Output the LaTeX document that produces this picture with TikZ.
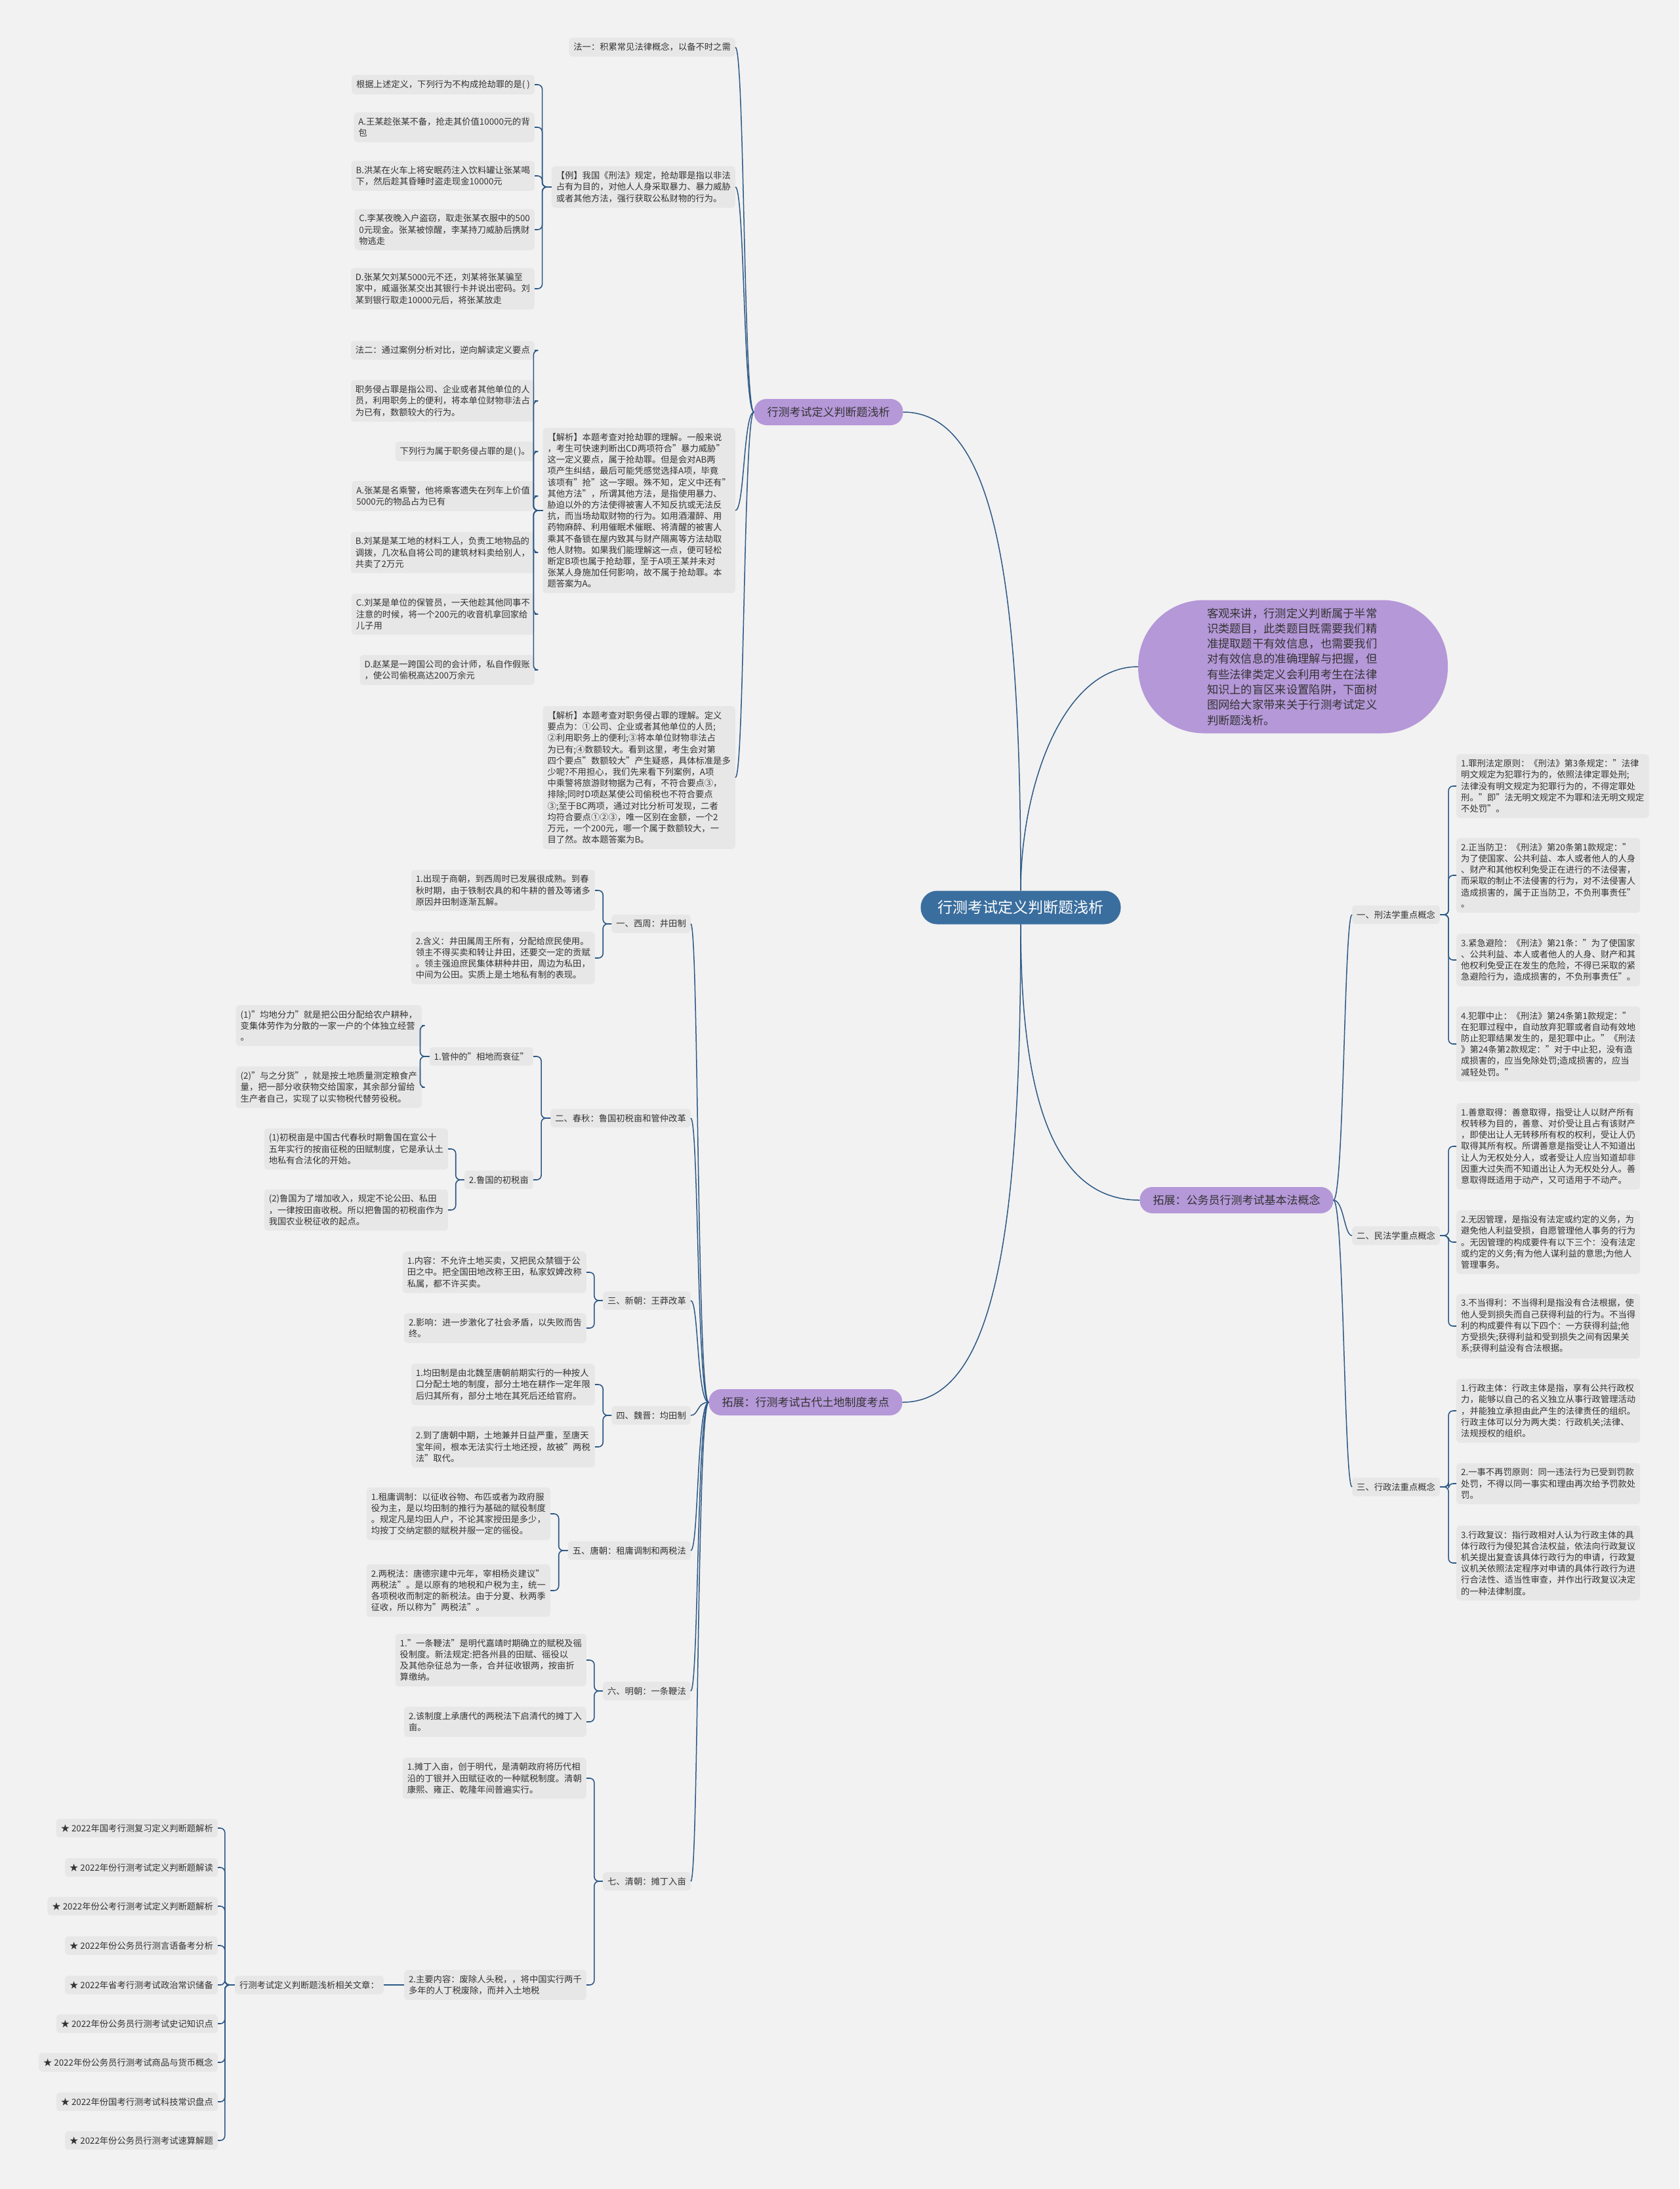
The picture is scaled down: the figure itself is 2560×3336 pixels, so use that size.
\documentclass[tikz,border=0pt]{standalone}
\usepackage{fontspec}
\setmainfont{Noto Sans CJK SC}
\usetikzlibrary{calc}

\definecolor{bgcol}{RGB}{242,242,242}
\definecolor{boxcol}{RGB}{231,231,231}
\definecolor{purplecol}{RGB}{181,152,216}
\definecolor{rootcol}{RGB}{58,110,158}
\definecolor{linecol}{RGB}{44,88,133}
\definecolor{txtcol}{RGB}{51,51,51}

\begin{document}
\begin{tikzpicture}[x=1pt,y=-1pt,
	leaf/.style={fill=boxcol,rounded corners=5pt,align=left,inner xsep=7pt,inner ysep=8pt,text=txtcol,font=\fontsize{13.3}{17.2}\selectfont},
	leafl/.style={leaf,anchor=east},
	leafr/.style={leaf,anchor=west},
	topic/.style={fill=purplecol,rounded corners=19pt,minimum height=40pt,inner xsep=20pt,text=txtcol,font=\fontsize{17}{20}\selectfont},
	root/.style={fill=rootcol,rounded corners=25pt,minimum height=51pt,inner xsep=26pt,text=white,font=\fontsize{23}{26}\selectfont},
	bubble/.style={fill=purplecol,rounded corners=100pt,minimum width=472pt,minimum height=203pt,text width=262pt,align=left,text=txtcol,font=\fontsize{17.3}{23.3}\selectfont},
	link/.style={draw=linecol,line width=1.5pt},
	brace/.style={draw=linecol,line width=1.6pt,rounded corners=7pt}]
	\path[use as bounding box,fill=bgcol] (0,0) rectangle (2560,3336);

	% centre and main topics
	\node[root] (root) at (1556,1383) {行测考试定义判断题浅析};
	\node[topic] (topicA) at (1263,628) {行测考试定义判断题浅析};
	\node[bubble] (intro) at (1971,1016) {客观来讲，行测定义判断属于半常\\识类题目，此类题目既需要我们精\\准提取题干有效信息，也需要我们\\对有效信息的准确理解与把握，但\\有些法律类定义会利用考生在法律\\知识上的盲区来设置陷阱，下面树\\图网给大家带来关于行测考试定义\\判断题浅析。};
	\node[topic] (topicB) at (1885,1829) {拓展：公务员行测考试基本法概念};
	\node[topic] (topicC) at (1228,2137) {拓展：行测考试古代土地制度考点};

	\draw[link] (root.north) .. controls +(0,-458) and +(143,0) .. (topicA.east);
	\draw[link] (root.north) .. controls +(0,-158) and +(-115,0) .. (intro.west);
	\draw[link] (root.south) .. controls +(0,251) and +(-137,0) .. (topicB.west);
	\draw[link] (root.south) .. controls +(0,459) and +(143,0) .. (topicC.east);

	% first topic
	\node[leafl] (way1) at (1121,72) {法一：积累常见法律概念，以备不时之需};
	\node[leafl] (ex) at (1121,285) {【例】我国《刑法》规定，抢劫罪是指以非法\\占有为目的，对他人人身采取暴力、暴力威胁\\或者其他方法，强行获取公私财物的行为。};
	\node[leafl] (anal1) at (1121,778) {【解析】本题考查对抢劫罪的理解。一般来说\\，考生可快速判断出CD两项符合"暴力威胁"\\这一定义要点，属于抢劫罪。但是会对AB两\\项产生纠结，最后可能凭感觉选择A项，毕竟\\该项有"抢"这一字眼。殊不知，定义中还有"\\其他方法"，所谓其他方法，是指使用暴力、\\胁迫以外的方法使得被害人不知反抗或无法反\\抗，而当场劫取财物的行为。如用酒灌醉、用\\药物麻醉、利用催眠术催眠、将清醒的被害人\\乘其不备锁在屋内致其与财产隔离等方法劫取\\他人财物。如果我们能理解这一点，便可轻松\\断定B项也属于抢劫罪，至于A项王某并未对\\张某人身施加任何影响，故不属于抢劫罪。本\\题答案为A。};
	\node[leafl] (anal2) at (1121,1185) {【解析】本题考查对职务侵占罪的理解。定义\\要点为：①公司、企业或者其他单位的人员;\\②利用职务上的便利;③将本单位财物非法占\\为已有;④数额较大。看到这里，考生会对第\\四个要点"数额较大"产生疑惑，具体标准是多\\少呢?不用担心，我们先来看下列案例，A项\\中乘警将旅游财物据为己有，不符合要点③，\\排除;同时D项赵某使公司偷税也不符合要点\\③;至于BC两项，通过对比分析可发现，二者\\均符合要点①②③，唯一区别在金额，一个2\\万元，一个200元，哪一个属于数额较大，一\\目了然。故本题答案为B。};
	\draw[link] (topicA.west) .. controls +(-16,0) and +(14,0) .. (way1.east);
	\draw[link] (topicA.west) .. controls +(-16,0) and +(14,0) .. (ex.east);
	\draw[link] (topicA.west) .. controls +(-16,0) and +(14,0) .. (anal1.east);
	\draw[link] (topicA.west) .. controls +(-16,0) and +(14,0) .. (anal2.east);

	\node[leafl] (exQ) at (815,129) {根据上述定义，下列行为不构成抢劫罪的是( )};
	\node[leafl] (exA) at (815,194) {A.王某趁张某不备，抢走其价值10000元的背\\包};
	\node[leafl] (exB) at (815,268) {B.洪某在火车上将安眠药注入饮料罐让张某喝\\下，然后趁其昏睡时盗走现金10000元};
	\node[leafl] (exC) at (815,350) {C.李某夜晚入户盗窃，取走张某衣服中的500\\0元现金。张某被惊醒，李某持刀威胁后携财\\物逃走};
	\node[leafl] (exD) at (815,440) {D.张某欠刘某5000元不还，刘某将张某骗至\\家中，威逼张某交出其银行卡并说出密码。刘\\某到银行取走10000元后，将张某放走};
	\draw[brace] (ex.west) -- ++(-14,0) |- (exQ.east);
	\draw[brace] (ex.west) -- ++(-14,0) |- (exA.east);
	\draw[brace] (ex.west) -- ++(-14,0) |- (exB.east);
	\draw[brace] (ex.west) -- ++(-14,0) |- (exC.east);
	\draw[brace] (ex.west) -- ++(-14,0) |- (exD.east);

	\node[leafl] (way2) at (815,534) {法二：通过案例分析对比，逆向解读定义要点};
	\node[leafl] (defn) at (815,611) {职务侵占罪是指公司、企业或者其他单位的人\\员，利用职务上的便利，将本单位财物非法占\\为已有，数额较大的行为。};
	\node[leafl] (q2) at (815,688) {下列行为属于职务侵占罪的是( )。};
	\node[leafl] (q2A) at (815,756) {A.张某是名乘警，他将乘客遗失在列车上价值\\5000元的物品占为已有};
	\node[leafl] (q2B) at (815,842) {B.刘某是某工地的材料工人，负责工地物品的\\调拨，几次私自将公司的建筑材料卖给别人，\\共卖了2万元};
	\node[leafl] (q2C) at (815,936) {C.刘某是单位的保管员，一天他趁其他同事不\\注意的时候，将一个200元的收音机拿回家给\\儿子用};
	\node[leafl] (q2D) at (815,1021) {D.赵某是一跨国公司的会计师，私自作假账\\，使公司偷税高达200万余元};
	\draw[brace] (anal1.west) -- ++(-14,0) |- (way2.east);
	\draw[brace] (anal1.west) -- ++(-14,0) |- (defn.east);
	\draw[brace] (anal1.west) -- ++(-14,0) |- (q2.east);
	\draw[brace] (anal1.west) -- ++(-14,0) |- (q2A.east);
	\draw[brace] (anal1.west) -- ++(-14,0) |- (q2B.east);
	\draw[brace] (anal1.west) -- ++(-14,0) |- (q2C.east);
	\draw[brace] (anal1.west) -- ++(-14,0) |- (q2D.east);

	% land systems
	\node[leafl] (zhou) at (1053,1408) {一、西周：井田制};
	\node[leafl] (chun) at (1053,1704) {二、春秋：鲁国初税亩和管仲改革};
	\node[leafl] (xin) at (1053,1982) {三、新朝：王莽改革};
	\node[leafl] (wei) at (1053,2157) {四、魏晋：均田制};
	\node[leafl] (tang) at (1053,2363) {五、唐朝：租庸调制和两税法};
	\node[leafl] (ming) at (1053,2577) {六、明朝：一条鞭法};
	\node[leafl] (qing) at (1053,2867) {七、清朝：摊丁入亩};
	\draw[link] (topicC.west) .. controls +(-18,0) and +(12,0) .. (zhou.east);
	\draw[link] (topicC.west) .. controls +(-18,0) and +(12,0) .. (chun.east);
	\draw[link] (topicC.west) .. controls +(-18,0) and +(12,0) .. (xin.east);
	\draw[link] (topicC.west) .. controls +(-18,0) and +(12,0) .. (wei.east);
	\draw[link] (topicC.west) .. controls +(-18,0) and +(12,0) .. (tang.east);
	\draw[link] (topicC.west) .. controls +(-18,0) and +(12,0) .. (ming.east);
	\draw[link] (topicC.west) .. controls +(-18,0) and +(12,0) .. (qing.east);

	\node[leafl] (zhou1) at (907,1357) {1.出现于商朝，到西周时已发展很成熟。到春\\秋时期，由于铁制农具的和牛耕的普及等诸多\\原因井田制逐渐瓦解。};
	\node[leafl] (zhou2) at (907,1460) {2.含义：井田属周王所有，分配给庶民使用。\\领主不得买卖和转让井田，还要交一定的贡赋\\。领主强迫庶民集体耕种井田，周边为私田，\\中间为公田。实质上是土地私有制的表现。};
	\draw[brace] (zhou.west) -- ++(-13,0) |- (zhou1.east);
	\draw[brace] (zhou.west) -- ++(-13,0) |- (zhou2.east);

	\node[leafl] (guan) at (813,1610) {1.管仲的"相地而衰征"};
	\node[leafl] (lu) at (813,1798) {2.鲁国的初税亩};
	\draw[brace] (chun.west) -- ++(-14,0) |- (guan.east);
	\draw[brace] (chun.west) -- ++(-14,0) |- (lu.east);
	\node[leafl] (guan1) at (643,1563) {(1)"均地分力"就是把公田分配给农户耕种，\\变集体劳作为分散的一家一户的个体独立经营\\。};
	\node[leafl] (guan2) at (643,1657) {(2)"与之分货"，就是按土地质量测定粮食产\\量，把一部分收获物交给国家，其余部分留给\\生产者自己，实现了以实物税代替劳役税。};
	\draw[brace] (guan.west) -- ++(-14,0) |- (guan1.east);
	\draw[brace] (guan.west) -- ++(-14,0) |- (guan2.east);
	\node[leafl] (lu1) at (683,1751) {(1)初税亩是中国古代春秋时期鲁国在宣公十\\五年实行的按亩征税的田赋制度，它是承认土\\地私有合法化的开始。};
	\node[leafl] (lu2) at (683,1844) {(2)鲁国为了增加收入，规定不论公田、私田\\，一律按田亩收税。所以把鲁国的初税亩作为\\我国农业税征收的起点。};
	\draw[brace] (lu.west) -- ++(-13,0) |- (lu1.east);
	\draw[brace] (lu.west) -- ++(-13,0) |- (lu2.east);

	\node[leafl] (xin1) at (894,1939) {1.内容：不允许土地买卖，又把民众禁锢于公\\田之中。把全国田地改称王田，私家奴婢改称\\私属，都不许买卖。};
	\node[leafl] (xin2) at (894,2024) {2.影响：进一步激化了社会矛盾，以失败而告\\终。};
	\draw[brace] (xin.west) -- ++(-13,0) |- (xin1.east);
	\draw[brace] (xin.west) -- ++(-13,0) |- (xin2.east);

	\node[leafl] (wei1) at (907,2110) {1.均田制是由北魏至唐朝前期实行的一种按人\\口分配土地的制度，部分土地在耕作一定年限\\后归其所有，部分土地在其死后还给官府。};
	\node[leafl] (wei2) at (907,2205) {2.到了唐朝中期，土地兼并日益严重，至唐天\\宝年间，根本无法实行土地还授，故被"两税\\法"取代。};
	\draw[brace] (wei.west) -- ++(-13,0) |- (wei1.east);
	\draw[brace] (wei.west) -- ++(-13,0) |- (wei2.east);

	\node[leafl] (tang1) at (839,2307) {1.租庸调制：以征收谷物、布匹或者为政府服\\役为主，是以均田制的推行为基础的赋役制度\\。规定凡是均田人户，不论其家授田是多少，\\均按丁交纳定额的赋税并服一定的徭役。};
	\node[leafl] (tang2) at (839,2424) {2.两税法：唐德宗建中元年，宰相杨炎建议"\\两税法"。是以原有的地税和户税为主，统一\\各项税收而制定的新税法。由于分夏、秋两季\\征收，所以称为"两税法"。};
	\draw[brace] (tang.west) -- ++(-14,0) |- (tang1.east);
	\draw[brace] (tang.west) -- ++(-14,0) |- (tang2.east);

	\node[leafl] (ming1) at (894,2530) {1."一条鞭法"是明代嘉靖时期确立的赋税及徭\\役制度。新法规定:把各州县的田赋、徭役以\\及其他杂征总为一条，合并征收银两，按亩折\\算缴纳。};
	\node[leafl] (ming2) at (894,2624) {2.该制度上承唐代的两税法下启清代的摊丁入\\亩。};
	\draw[brace] (ming.west) -- ++(-13,0) |- (ming1.east);
	\draw[brace] (ming.west) -- ++(-13,0) |- (ming2.east);

	\node[leafl] (qing1) at (894,2710) {1.摊丁入亩，创于明代，是清朝政府将历代相\\沿的丁银并入田赋征收的一种赋税制度。清朝\\康熙、雍正、乾隆年间普遍实行。};
	\node[leafl] (qing2) at (894,3025) {2.主要内容：废除人头税，，将中国实行两千\\多年的人丁税废除，而并入土地税};
	\draw[brace] (qing.west) -- ++(-13,0) |- (qing1.east);
	\draw[brace] (qing.west) -- ++(-13,0) |- (qing2.east);

	% related articles
	\node[leafl] (rel) at (585,3025) {行测考试定义判断题浅析相关文章：};
	\draw[link] (qing2.west) -- (rel.east);
	\node[leafl] (s1) at (332,2786) {★ 2022年国考行测复习定义判断题解析};
	\node[leafl] (s2) at (332,2846) {★ 2022年份行测考试定义判断题解读};
	\node[leafl] (s3) at (332,2905) {★ 2022年份公考行测考试定义判断题解析};
	\node[leafl] (s4) at (332,2965) {★ 2022年份公务员行测言语备考分析};
	\node[leafl] (s5) at (332,3025) {★ 2022年省考行测考试政治常识储备};
	\node[leafl] (s6) at (332,3084) {★ 2022年份公务员行测考试史记知识点};
	\node[leafl] (s7) at (332,3143) {★ 2022年份公务员行测考试商品与货币概念};
	\node[leafl] (s8) at (332,3203) {★ 2022年份国考行测考试科技常识盘点};
	\node[leafl] (s9) at (332,3262) {★ 2022年份公务员行测考试速算解题};
	\draw[brace] (rel.west) -- ++(-15,0) |- (s1.east);
	\draw[brace] (rel.west) -- ++(-15,0) |- (s2.east);
	\draw[brace] (rel.west) -- ++(-15,0) |- (s3.east);
	\draw[brace] (rel.west) -- ++(-15,0) |- (s4.east);
	\draw[brace] (rel.west) -- ++(-15,0) |- (s5.east);
	\draw[brace] (rel.west) -- ++(-15,0) |- (s6.east);
	\draw[brace] (rel.west) -- ++(-15,0) |- (s7.east);
	\draw[brace] (rel.west) -- ++(-15,0) |- (s8.east);
	\draw[brace] (rel.west) -- ++(-15,0) |- (s9.east);

	% basic law concepts
	\node[leafr] (xing) at (2061,1394) {一、刑法学重点概念};
	\node[leafr] (min) at (2061,1883) {二、民法学重点概念};
	\node[leafr] (zheng) at (2061,2266) {三、行政法重点概念};
	\draw[link] (topicB.east) .. controls +(16,0) and +(-12,0) .. (xing.west);
	\draw[link] (topicB.east) .. controls +(16,0) and +(-12,0) .. (min.west);
	\draw[link] (topicB.east) .. controls +(16,0) and +(-12,0) .. (zheng.west);

	\node[leafr] (xing1) at (2220,1198) {1.罪刑法定原则：《刑法》第3条规定："法律\\明文规定为犯罪行为的，依照法律定罪处刑;\\法律没有明文规定为犯罪行为的，不得定罪处\\刑。"即"法无明文规定不为罪和法无明文规定\\不处罚"。};
	\node[leafr] (xing2) at (2220,1334) {2.正当防卫：《刑法》第20条第1款规定："\\为了使国家、公共利益、本人或者他人的人身\\、财产和其他权利免受正在进行的不法侵害，\\而采取的制止不法侵害的行为，对不法侵害人\\造成损害的，属于正当防卫，不负刑事责任"\\。};
	\node[leafr] (xing3) at (2220,1463) {3.紧急避险：《刑法》第21条："为了使国家\\、公共利益、本人或者他人的人身、财产和其\\他权利免受正在发生的危险，不得已采取的紧\\急避险行为，造成损害的，不负刑事责任"。};
	\node[leafr] (xing4) at (2220,1591) {4.犯罪中止：《刑法》第24条第1款规定："\\在犯罪过程中，自动放弃犯罪或者自动有效地\\防止犯罪结果发生的，是犯罪中止。"《刑法\\》第24条第2款规定："对于中止犯，没有造\\成损害的，应当免除处罚;造成损害的，应当\\减轻处罚。"};
	\draw[brace] (xing.east) -- ++(13,0) |- (xing1.west);
	\draw[brace] (xing.east) -- ++(13,0) |- (xing2.west);
	\draw[brace] (xing.east) -- ++(13,0) |- (xing3.west);
	\draw[brace] (xing.east) -- ++(13,0) |- (xing4.west);

	\node[leafr] (min1) at (2220,1747) {1.善意取得：善意取得，指受让人以财产所有\\权转移为目的，善意、对价受让且占有该财产\\，即使出让人无转移所有权的权利，受让人仍\\取得其所有权。所谓善意是指受让人不知道出\\让人为无权处分人，或者受让人应当知道却非\\因重大过失而不知道出让人为无权处分人。善\\意取得既适用于动产，又可适用于不动产。};
	\node[leafr] (min2) at (2220,1893) {2.无因管理，是指没有法定或约定的义务，为\\避免他人利益受损，自愿管理他人事务的行为\\。无因管理的构成要件有以下三个：没有法定\\或约定的义务;有为他人谋利益的意思;为他人\\管理事务。};
	\node[leafr] (min3) at (2220,2021) {3.不当得利：不当得利是指没有合法根据，使\\他人受到损失而自己获得利益的行为。不当得\\利的构成要件有以下四个：一方获得利益;他\\方受损失;获得利益和受到损失之间有因果关\\系;获得利益没有合法根据。};
	\draw[brace] (min.east) -- ++(13,0) |- (min1.west);
	\draw[brace] (min.east) -- ++(13,0) |- (min2.west);
	\draw[brace] (min.east) -- ++(13,0) |- (min3.west);

	\node[leafr] (zheng1) at (2220,2150) {1.行政主体：行政主体是指，享有公共行政权\\力，能够以自己的名义独立从事行政管理活动\\，并能独立承担由此产生的法律责任的组织。\\行政主体可以分为两大类：行政机关;法律、\\法规授权的组织。};
	\node[leafr] (zheng2) at (2220,2261) {2.一事不再罚原则：同一违法行为已受到罚款\\处罚，不得以同一事实和理由再次给予罚款处\\罚。};
	\node[leafr] (zheng3) at (2220,2382) {3.行政复议：指行政相对人认为行政主体的具\\体行政行为侵犯其合法权益，依法向行政复议\\机关提出复查该具体行政行为的申请，行政复\\议机关依照法定程序对申请的具体行政行为进\\行合法性、适当性审查，并作出行政复议决定\\的一种法律制度。};
	\draw[brace] (zheng.east) -- ++(13,0) |- (zheng1.west);
	\draw[brace] (zheng.east) -- ++(13,0) |- (zheng2.west);
	\draw[brace] (zheng.east) -- ++(13,0) |- (zheng3.west);
\end{tikzpicture}
\end{document}
